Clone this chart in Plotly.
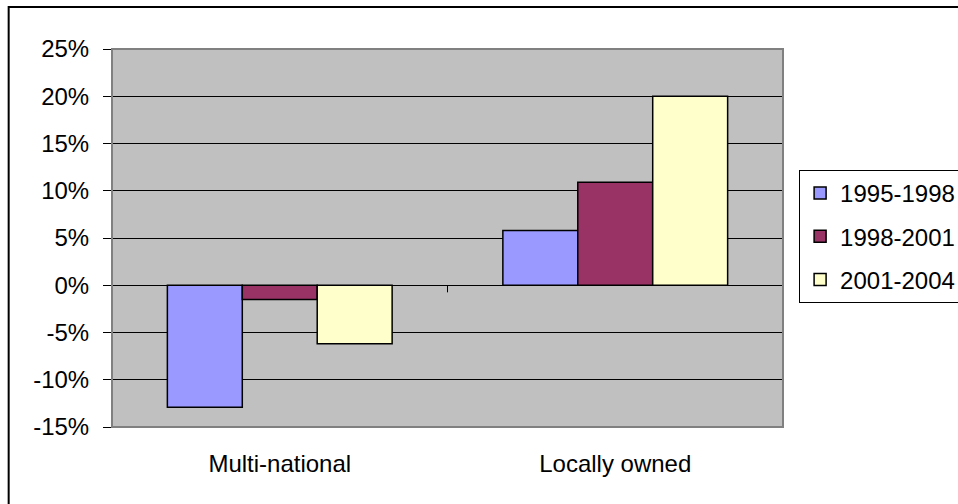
import plotly.graph_objects as go

# Growth by ownership type, three periods (percent)
categories = ["Multi-national", "Locally owned"]
periods = ["1995-1998", "1998-2001", "2001-2004"]
growth_1995_1998 = [-12.9, 5.8]
growth_1998_2001 = [-1.5, 10.9]
growth_2001_2004 = [-6.2, 20.0]
y_ticks = [-15, -10, -5, 0, 5, 10, 15, 20, 25]
y_tick_labels = [f"{v}%" for v in y_ticks]

series = [growth_1995_1998, growth_1998_2001, growth_2001_2004]
colors = ["#9999FF", "#993366", "#FFFFCC"]

FONT = "Liberation Sans, Arial, sans-serif"
FS = 24

fig = go.Figure()
for name, vals, col in zip(periods, series, colors):
    fig.add_trace(go.Bar(
        x=categories, y=vals, name=name, legendgroup=name,
        marker=dict(color=col, line=dict(color="black", width=1.5)),
    ))

fig.update_layout(
    width=958, height=504,
    margin=dict(l=112, r=175, t=49, b=77, autoexpand=False),
    paper_bgcolor="white",
    plot_bgcolor="#C0C0C0",
    barmode="group", bargap=0.33, bargroupgap=0,
    font=dict(family=FONT, size=FS, color="black"),
    showlegend=True,
    legend=dict(
        x=1.024, y=0.68, xanchor="left", yanchor="top",
        bordercolor="black", borderwidth=1, bgcolor="white",
        font=dict(family=FONT, size=FS, color="black"),
        tracegroupgap=9, itemwidth=30,
    ),
    xaxis=dict(
        type="category", showgrid=False, zeroline=False, showline=False,
        ticks="", ticklabelstandoff=20,
        tickfont=dict(family=FONT, size=FS),
    ),
    yaxis=dict(
        range=[-15, 25], tickmode="array",
        tickvals=y_ticks, ticktext=y_tick_labels,
        showgrid=True, gridcolor="black", gridwidth=1,
        zeroline=True, zerolinecolor="black", zerolinewidth=1,
        showline=True, linecolor="black", linewidth=1,
        ticks="outside", ticklen=8, tickcolor="black",
        ticklabelstandoff=9,
        tickfont=dict(family=FONT, size=FS),
    ),
)

# plot-area border
fig.add_shape(type="rect", xref="paper", yref="paper", x0=0, x1=1, y0=0, y1=1,
              line=dict(color="#808080", width=2), layer="above")
# category divider tick on the zero line
fig.add_shape(type="line", xref="x", yref="y", x0=0.5, x1=0.5, y0=0, y1=-0.75,
              line=dict(color="black", width=1), layer="above")
# chart-area frame
fig.add_shape(type="rect", xref="paper", yref="paper",
              x0=-0.154, x1=1.5, y0=-0.5, y1=1.111,
              line=dict(color="black", width=2), layer="above")

fig.write_html("out.html")
